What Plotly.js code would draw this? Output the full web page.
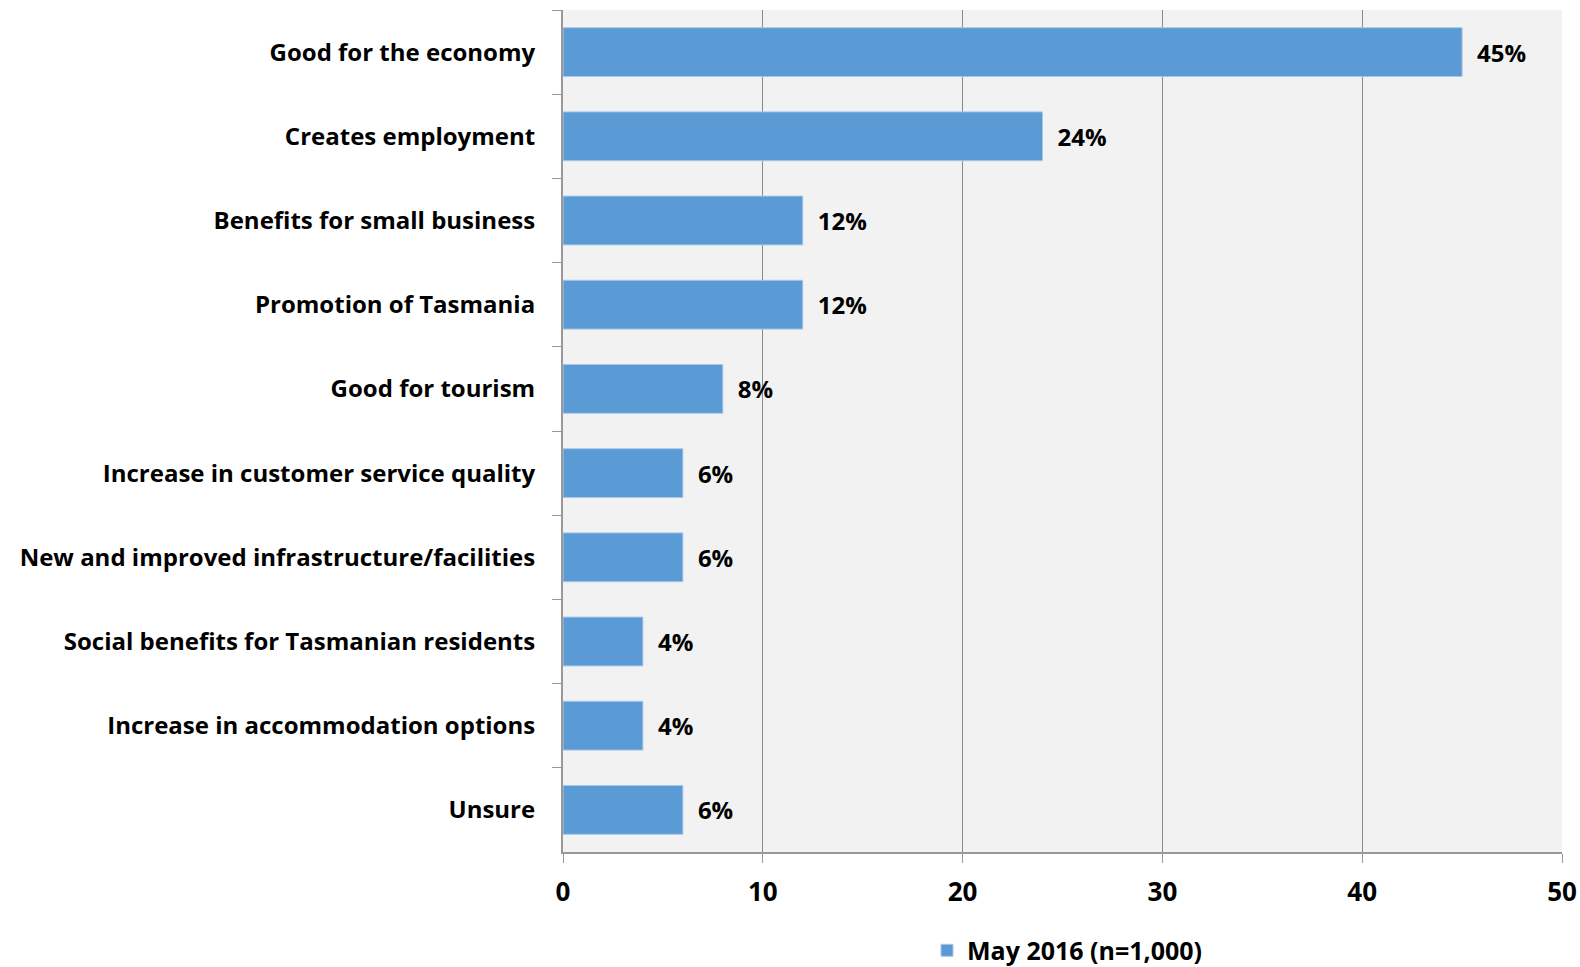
<!DOCTYPE html>
<html>
<head>
<meta charset="utf-8">
<script src="https://cdn.plot.ly/plotly-3.0.1.min.js"></script>
<style>html,body{margin:0;padding:0;background:#fff;}#chart{width:1580px;height:967px;}</style>
</head>
<body>
<div id="chart"></div>
<script>
const categories = [
  "Good for the economy",
  "Creates employment",
  "Benefits for small business",
  "Promotion of Tasmania",
  "Good for tourism",
  "Increase in customer service quality",
  "New and improved infrastructure/facilities",
  "Social benefits for Tasmanian residents",
  "Increase in accommodation options",
  "Unsure"
];
const values = [45, 24, 12, 12, 8, 6, 6, 4, 4, 6];
const seriesName = "May 2016 (n=1,000)";
const xTicks = [0, 10, 20, 30, 40, 50];

const font = "'Open Sans', Lato, sans-serif";
const trace = {
  type: "bar",
  orientation: "h",
  y: categories,
  x: values,
  name: seriesName,
  marker: {color: "#5b9bd5", line: {color: "#a9c8e8", width: 1}},
  texttemplate: "\u2002%{x}%",
  textposition: "outside",
  cliponaxis: false,
  textfont: {family: font, size: 24, color: "#000", weight: "bold"},
  hoverinfo: "x+y"
};
const layout = {
  width: 1580, height: 967,
  margin: {l: 563, r: 18, t: 10, b: 115},
  paper_bgcolor: "#ffffff",
  plot_bgcolor: "#f2f2f2",
  bargap: 0.42,
  font: {family: font, size: 24, color: "#000", weight: "bold"},
  showlegend: true,
  legend: {orientation: "h", x: 0.505, xanchor: "center", yref: "container", y: 0.017, yanchor: "middle",
           font: {family: font, size: 25, color: "#000", weight: "bold"}},
  xaxis: {
    range: [0, 50], tickvals: xTicks, ticktext: xTicks.map(String),
    showgrid: true, gridcolor: "#888888", gridwidth: 1,
    showline: true, linecolor: "#999999", linewidth: 2, mirror: false,
    ticks: "outside", ticklen: 9, tickcolor: "#999999", tickwidth: 1,
    zeroline: false, fixedrange: true, automargin: false,
    ticklabelstandoff: 7,
    tickfont: {family: font, size: 26, color: "#000", weight: "bold"}
  },
  yaxis: {
    type: "category", autorange: "reversed", automargin: false,
    showline: true, linecolor: "#999999", linewidth: 2,
    ticks: "outside", ticklen: 9, tickcolor: "#999999", tickwidth: 1,
    tickson: "boundaries",
    showgrid: false, zeroline: false,
    ticklabelstandoff: 21,
    tickfont: {family: font, size: 24, color: "#000", weight: "bold"}
  }
};
Plotly.newPlot("chart", [trace], layout, {displayModeBar: false, staticPlot: true});
</script>
</body>
</html>
